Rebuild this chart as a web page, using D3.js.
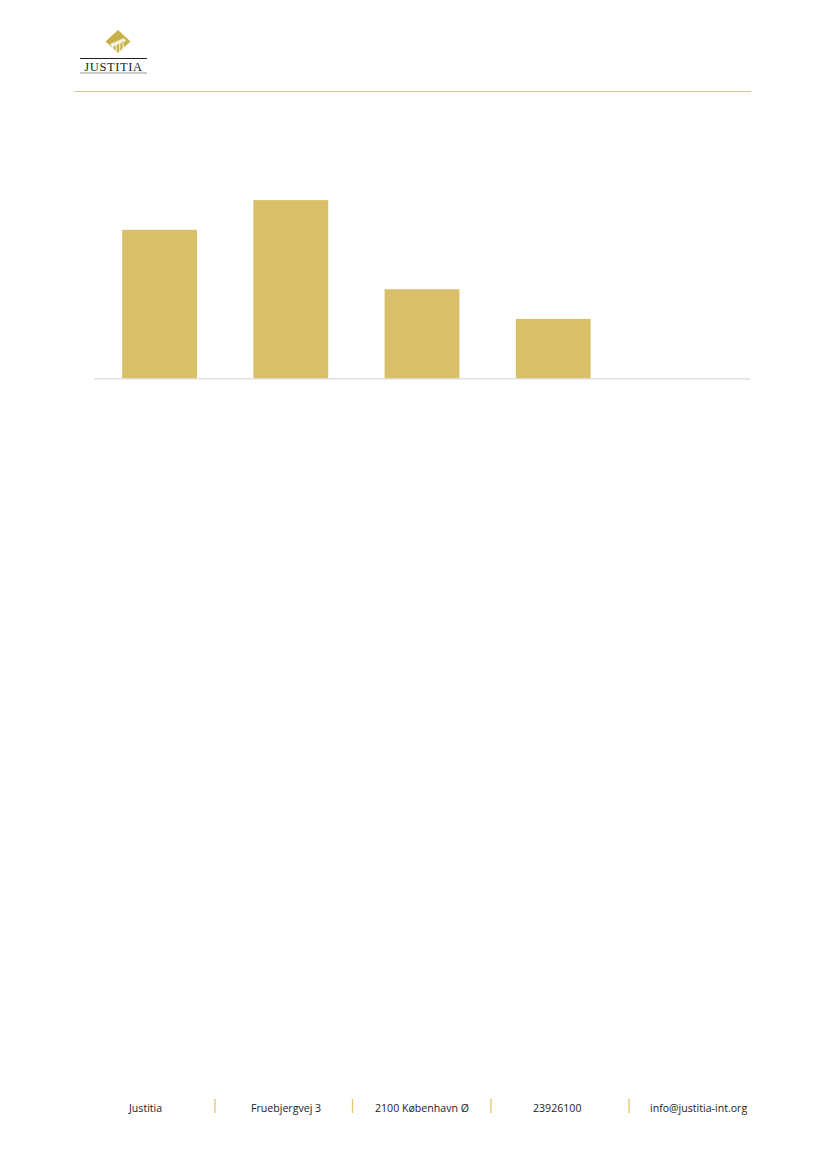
<!DOCTYPE html>
<html>
<head>
<meta charset="utf-8">
<script src="https://cdn.jsdelivr.net/npm/d3@7/dist/d3.min.js"></script>
<style>
  html, body { margin: 0; padding: 0; background: #fff; }
  svg { display: block; }
</style>
</head>
<body>
<div id="chart"></div>
<script>
// ---- data ----
const categories = ["A", "B", "C", "D", "E"];
const values = [5, 6, 3, 2, 0];
const footerItems = ["Justitia", "Fruebjergvej 3", "2100 København Ø", "23926100", "info@justitia-int.org"];
const footerX = [129, 251, 375, 533, 650];
const separatorX = [215, 352.5, 491, 629];

const W = 826, H = 1169;
const svg = d3.select("#chart").append("svg").attr("width", W).attr("height", H);

// ---- header logo ----
const logo = svg.append("g");
logo.append("path")
  .attr("d", "M118,30 L130.5,41.5 L118,53 L105.5,41.5 Z")
  .attr("fill", "#c9b048");
logo.append("path")
  .attr("d", "M110,44 L124,38 L126,41 L112,47 Z")
  .attr("fill", "#ffffff").attr("opacity", 0.8);
[112, 115.5, 119, 122.5].forEach(x => {
  logo.append("rect").attr("x", x).attr("y", 43).attr("width", 1.4).attr("height", 9)
    .attr("fill", "#ffffff").attr("opacity", 0.7);
});
logo.append("line").attr("x1", 80).attr("x2", 147).attr("y1", 58.5).attr("y2", 58.5)
  .attr("stroke", "#222").attr("stroke-width", 1);
logo.append("text").attr("x", 113.5).attr("y", 70.5)
  .attr("text-anchor", "middle")
  .attr("font-family", "Liberation Serif, DejaVu Serif, serif")
  .attr("font-size", 12.5).attr("letter-spacing", 0.6).attr("fill", "#222")
  .text("JUSTITIA");
logo.append("line").attr("x1", 80).attr("x2", 147).attr("y1", 73).attr("y2", 73)
  .attr("stroke", "#999").attr("stroke-width", 1);

// header rule
svg.append("line").attr("x1", 74).attr("x2", 751).attr("y1", 91.5).attr("y2", 91.5)
  .attr("stroke", "#d6c892").attr("stroke-width", 1);

// ---- chart ----
const x = d3.scaleBand().domain(categories).range([94, 750]).paddingInner(0.43).paddingOuter(0.215);
const y = d3.scaleLinear().domain([0, 8]).range([378.3, 140.7]);

svg.append("g").selectAll("rect").data(values).join("rect")
  .attr("x", (d, i) => x(categories[i]))
  .attr("y", d => y(d))
  .attr("width", x.bandwidth())
  .attr("height", d => y(0) - y(d))
  .attr("fill", "#d9c068");

const axis = svg.append("g").attr("transform", `translate(0,${y(0)})`)
  .call(d3.axisBottom(x).tickSize(0).tickFormat(""));
axis.select(".domain").attr("stroke", "#d9d9d9").attr("stroke-width", 1.2);

// ---- footer ----
const footer = svg.append("g");
footer.selectAll("text").data(footerItems).join("text")
  .attr("x", (d, i) => footerX[i])
  .attr("y", 1111.5)
  .attr("font-family", "Open Sans, Noto Sans, sans-serif")
  .attr("font-size", 10.6)
  .attr("fill", "#222")
  .text(d => d);
footer.selectAll("line").data(separatorX).join("line")
  .attr("x1", d => d).attr("x2", d => d)
  .attr("y1", 1099).attr("y2", 1113)
  .attr("stroke", "#e3c56a").attr("stroke-width", 1.3);
</script>
</body>
</html>
